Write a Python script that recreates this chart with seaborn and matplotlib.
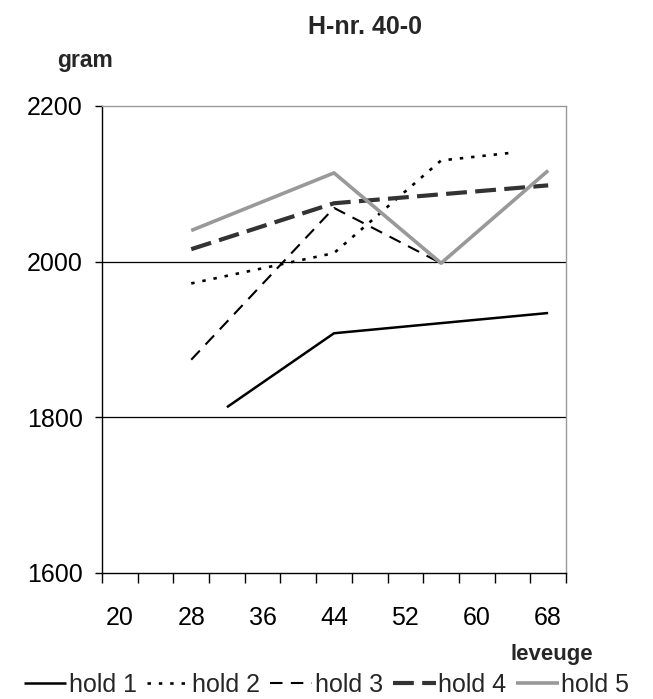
import numpy as np
import pandas as pd
import matplotlib
matplotlib.use("Agg")
import matplotlib.pyplot as plt
import seaborn as sns

# Week categories on the x axis (every second one is labelled)
weeks = [20, 24, 28, 32, 36, 40, 44, 48, 52, 56, 60, 64, 68]
tick_weeks = [20, 28, 36, 44, 52, 60, 68]

# Body weight (gram) per flock
hold1_weeks = [32, 44, 68]
hold1_gram = [1813, 1908, 1934]
hold2_weeks = [28, 44, 56, 64]
hold2_gram = [1972, 2011, 2130, 2140]
hold3_weeks = [28, 44, 56]
hold3_gram = [1874, 2069, 1998]
hold4_weeks = [28, 44, 68]
hold4_gram = [2016, 2075, 2098]
hold5_weeks = [28, 44, 56, 68]
hold5_gram = [2040, 2114, 1998, 2117]

series = [
    ("hold 1", hold1_weeks, hold1_gram, "#000000", 1.8, None),
    ("hold 2", hold2_weeks, hold2_gram, "#000000", 1.9, (1.3, 3.0)),
    ("hold 3", hold3_weeks, hold3_gram, "#000000", 1.5, (6.0, 4.0)),
    ("hold 4", hold4_weeks, hold4_gram, "#333333", 3.0, (5.0, 2.0)),
    ("hold 5", hold5_weeks, hold5_gram, "#999999", 2.6, None),
]

sns.set_theme(style="white")
plt.rcParams["font.family"] = ["Liberation Sans", "DejaVu Sans"]

fig = plt.figure(figsize=(6.53, 6.99), dpi=100)
ax = fig.add_axes([0.1562, 0.1803, 0.7106, 0.6681])

for name, wk, val, color, lw, dash in series:
    df = pd.DataFrame({"pos": [weeks.index(w) for w in wk], "gram": val})
    sns.lineplot(data=df, x="pos", y="gram", ax=ax, color=color,
                 linewidth=lw, label=name, sort=False, legend=False)
    line = ax.lines[-1]
    line.set_solid_capstyle("butt")
    line.set_dash_capstyle("butt")
    if dash is not None:
        line.set_dashes(dash)

ax.set_xlim(-0.5, len(weeks) - 0.5)
ax.set_ylim(1600, 2200)
ax.set_yticks([1600, 1800, 2000, 2200])
ax.set_xticks([weeks.index(w) for w in tick_weeks])
ax.set_xticklabels([str(w) for w in tick_weeks])
ax.set_xticks(np.arange(-0.5, len(weeks), 1.0), minor=True)
ax.set_xlabel("")
ax.set_ylabel("")

ax.tick_params(axis="x", which="major", length=0, pad=24, labelsize=18, colors="black")
ax.tick_params(axis="x", which="minor", length=7, width=1, direction="out",
               color="black", bottom=True)
ax.tick_params(axis="y", length=5, width=1, direction="out", pad=9,
               labelsize=18, colors="black", left=True)

for yv in (1800, 2000):
    ax.axhline(yv, color="black", linewidth=0.9, zorder=0)

ax.spines["left"].set_color("black")
ax.spines["bottom"].set_color("black")
ax.spines["top"].set_color("#999999")
ax.spines["right"].set_color("#999999")
for sp in ax.spines.values():
    sp.set_linewidth(1.0)

fig.text(0.559, 0.961, "H-nr. 40-0", ha="center", va="center",
         fontsize=18, fontweight="bold")
fig.text(0.130, 0.914, "gram", ha="center", va="center",
         fontsize=16.5, fontweight="bold")
fig.text(0.845, 0.063, "leveuge", ha="center", va="center",
         fontsize=16, fontweight="bold")

handles = ax.lines[:5]
fig.legend(handles, [s[0] for s in series], loc="center",
           bbox_to_anchor=(0.5, 0.02), ncol=5, frameon=False, fontsize=18,
           handlelength=1.7, handletextpad=0.1, columnspacing=0.4,
           borderaxespad=0)

fig.savefig("out.png", dpi=100, facecolor="white")
